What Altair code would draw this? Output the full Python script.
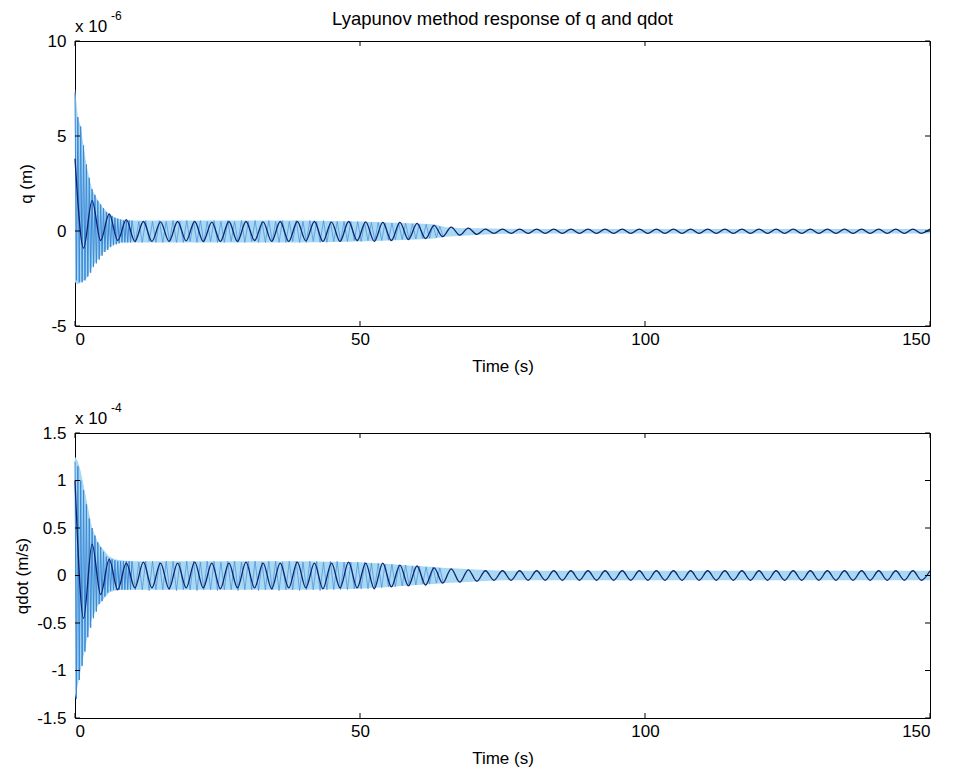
import altair as alt
import pandas as pd

FONT = "Liberation Sans"

# envelope of the dense light-blue oscillation
t_env = [0, 0.5, 1, 1.5, 2, 2.5, 3, 4, 5, 6, 7, 8, 10, 20, 30, 40, 50, 55, 60, 63, 65,
         68, 71, 75, 80, 90, 100, 110, 120, 130, 140, 150]
q_up = [7.5, 6.0, 5.5, 4.5, 3.5, 2.8, 2.2, 1.6, 1.2, 0.9, 0.7, 0.6, 0.55, 0.55, 0.55, 0.55,
        0.5, 0.45, 0.4, 0.35, 0.2, 0.15, 0.15, 0.12, 0.1, 0.1, 0.1, 0.1, 0.1, 0.1, 0.1, 0.1]
q_lo = [-2.7, -2.8, -2.7, -2.6, -2.5, -2.2, -1.9, -1.5, -1.1, -0.85, -0.7, -0.6, -0.6, -0.6,
        -0.6, -0.6, -0.55, -0.5, -0.45, -0.4, -0.3, -0.25, -0.2, -0.15, -0.13, -0.13, -0.13,
        -0.13, -0.13, -0.13, -0.13, -0.13]
qd_up = [1.25, 1.2, 1.1, 0.95, 0.8, 0.65, 0.5, 0.35, 0.27, 0.2, 0.17, 0.16, 0.15, 0.15, 0.15,
         0.15, 0.14, 0.12, 0.1, 0.09, 0.08, 0.07, 0.06, 0.05, 0.05, 0.05, 0.05, 0.05, 0.05,
         0.05, 0.05, 0.05]
qd_lo = [-1.3, -1.15, -1.0, -0.85, -0.7, -0.55, -0.45, -0.32, -0.25, -0.18, -0.16, -0.15,
         -0.15, -0.15, -0.15, -0.15, -0.14, -0.12, -0.1, -0.09, -0.08, -0.07, -0.06, -0.05,
         -0.05, -0.05, -0.05, -0.05, -0.05, -0.05, -0.05, -0.05]

# fast oscillation during the initial transient (every 0.25 s, 0..10 s)
q_fast = [7.3, -2.6, 6.0, -2.7, 5.5, -2.7, 4.5, -2.6, 3.5, -2.4, 2.8, -2.2, 2.2, -1.9, 1.9,
          -1.7, 1.6, -1.5, 1.4, -1.3, 1.2, -1.1, 1.0, -1.0, 0.9, -0.85, 0.8, -0.75, 0.7, -0.7,
          0.65, -0.65, 0.6, -0.6, 0.55, -0.6, 0.55, -0.6, 0.55, -0.6, 0.55]
qd_fast = [1.2, -1.3, 1.15, -1.1, 1.0, -0.95, 0.9, -0.8, 0.75, -0.65, 0.6, -0.55, 0.5, -0.45,
           0.42, -0.38, 0.35, -0.3, 0.3, -0.27, 0.25, -0.22, 0.2, -0.18, 0.18, -0.16, 0.17,
           -0.15, 0.16, -0.15, 0.15, -0.15, 0.15, -0.15, 0.15, -0.15, 0.15, -0.15, 0.15, -0.15,
           0.15]

# stripes of the fast oscillation in the steady band (every 0.6 s, from 10 s)
q_stripe = [0.55, -0.6, 0.5, -0.6, 0.55, -0.55, 0.5, -0.6, 0.55, -0.6,
            0.5, -0.55, 0.55, -0.6, 0.5, -0.6, 0.55, -0.55, 0.5, -0.6,
            0.55, -0.6, 0.5, -0.55, 0.55, -0.6, 0.5, -0.6, 0.55, -0.55,
            0.5, -0.6, 0.55, -0.6, 0.5, -0.55, 0.55, -0.6, 0.5, -0.6,
            0.55, -0.55, 0.5, -0.6, 0.55, -0.6, 0.5, -0.55, 0.55, -0.6,
            0.5, -0.6, 0.55, -0.55, 0.5, -0.6, 0.55, -0.6, 0.5, -0.55,
            0.5, -0.55, 0.5, -0.55, 0.5, -0.5, 0.5, -0.55, 0.45, -0.5,
            0.45, -0.5, 0.45, -0.5, 0.42, -0.48, 0.42, -0.45, 0.4, -0.45,
            0.4, -0.42, 0.38, -0.42, 0.35, -0.4, 0.35, -0.38, 0.3, -0.35,
            0.25, -0.3]
qd_stripe = [0.15, -0.15, 0.14, -0.15, 0.15, -0.16, 0.15, -0.15, 0.14, -0.15,
             0.15, -0.15, 0.15, -0.16, 0.14, -0.15, 0.15, -0.15, 0.15, -0.16,
             0.14, -0.15, 0.15, -0.15, 0.15, -0.16, 0.14, -0.15, 0.15, -0.15,
             0.15, -0.16, 0.14, -0.15, 0.15, -0.15, 0.15, -0.16, 0.14, -0.15,
             0.15, -0.15, 0.15, -0.16, 0.14, -0.15, 0.15, -0.15, 0.15, -0.16,
             0.14, -0.15, 0.15, -0.15, 0.15, -0.16, 0.14, -0.15, 0.15, -0.15,
             0.15, -0.15, 0.14, -0.15, 0.14, -0.14, 0.14, -0.14, 0.14, -0.14,
             0.13, -0.13, 0.13, -0.13, 0.12, -0.12, 0.12, -0.12, 0.11, -0.11,
             0.11, -0.1, 0.1, -0.1, 0.1, -0.09, 0.09, -0.09, 0.09, -0.08,
             0.08, -0.08]

# slower dark oscillation (extremes every 1.5 s)
q_dark = [3.8, -0.9, 1.6, -0.5, 0.9, -0.5, 0.6, -0.55,
          0.5, -0.55, 0.48, -0.55, 0.5, -0.52, 0.5, -0.55, 0.47, -0.55,
          0.5, -0.55, 0.5, -0.5, 0.48, -0.55, 0.5, -0.55, 0.5, -0.52,
          0.5, -0.55, 0.47, -0.55, 0.5, -0.5, 0.48, -0.55, 0.45,
          -0.5, 0.45, -0.45, 0.4, -0.4, 0.3, -0.3, 0.2, -0.22, 0.15, -0.18,
          0.1, -0.13, 0.1, -0.12, 0.1, -0.13, 0.1, -0.12, 0.1, -0.13,
          0.1, -0.12, 0.1, -0.13, 0.1, -0.12, 0.1, -0.13, 0.1, -0.12,
          0.1, -0.13, 0.1, -0.12, 0.1, -0.13, 0.1, -0.12, 0.1, -0.13,
          0.1, -0.12, 0.1, -0.13, 0.1, -0.12, 0.1, -0.13, 0.1, -0.12,
          0.1, -0.13, 0.1, -0.12, 0.1, -0.13, 0.1, -0.12, 0.1, -0.13,
          0.1, -0.12, 0.1]
qd_dark = [1.0, -0.45, 0.33, -0.2, 0.17, -0.15,
           0.13, -0.13, 0.14, -0.13, 0.13, -0.14, 0.13, -0.13, 0.14, -0.13,
           0.13, -0.14, 0.13, -0.13, 0.14, -0.13, 0.13, -0.14, 0.13, -0.13,
           0.14, -0.13, 0.13, -0.14, 0.13, -0.13, 0.14, -0.13, 0.13, -0.14, 0.13,
           -0.12, 0.11, -0.11, 0.1, -0.1, 0.08, -0.08, 0.07, -0.07, 0.06, -0.06,
           0.05, -0.05, 0.05, -0.05, 0.05, -0.05, 0.05, -0.05, 0.05, -0.05,
           0.05, -0.05, 0.05, -0.05, 0.05, -0.05, 0.05, -0.05, 0.05, -0.05,
           0.05, -0.05, 0.05, -0.05, 0.05, -0.05, 0.05, -0.05, 0.05, -0.05,
           0.05, -0.05, 0.05, -0.05, 0.05, -0.05, 0.05, -0.05, 0.05, -0.05,
           0.05, -0.05, 0.05, -0.05, 0.05, -0.05, 0.05, -0.05, 0.05, -0.05,
           0.05, -0.05, 0.05]

x_ticks = [0, 50, 100, 150]
q_ticks = [-5, 0, 5, 10]
qd_ticks = [-1.5, -1, -0.5, 0, 0.5, 1, 1.5]

W, H = 855, 285
LIGHT = "#a9d8f2"
MID = "#3a88d8"
DARK = "#0f2470"


def panel(up, lo, fast, stripe, dark, yticks, ydom, ytitle, exponent, ytp, title=None):
    env = pd.DataFrame({"t": t_env, "up": up, "lo": lo})
    fdf = pd.DataFrame({"t": [i * 0.25 for i in range(len(fast))], "v": fast})
    sdf = pd.DataFrame({"t": [10 + i * 0.6 for i in range(len(stripe))], "v": stripe})
    ddf = pd.DataFrame({"t": [i * 1.5 for i in range(len(dark))], "v": dark})
    xs = alt.Scale(domain=[0, 150], nice=False)
    ys = alt.Scale(domain=ydom, nice=False)
    common = dict(tickSize=0, domain=False, grid=False, labelExpr="'' + datum.value",
                  labelFont=FONT, titleFont=FONT, labelFontSize=17, titleFontSize=17,
                  labelColor="black", titleColor="black", titleFontWeight="normal")
    xax = alt.Axis(values=x_ticks, title="Time (s)", labelPadding=5, titlePadding=11, **common)
    yax = alt.Axis(values=yticks, title=ytitle, labelPadding=9, titlePadding=ytp, **common)
    base_area = alt.Chart(env).mark_area(color=LIGHT, opacity=1, interpolate="linear").encode(
        x=alt.X("t:Q", scale=xs, axis=xax), y=alt.Y("up:Q", scale=ys, axis=yax), y2="lo:Q")
    fast_line = alt.Chart(fdf).mark_line(color=MID, strokeWidth=1).encode(
        x=alt.X("t:Q", scale=xs), y=alt.Y("v:Q", scale=ys))
    stripe_line = alt.Chart(sdf).mark_line(color=MID, strokeWidth=0.8, opacity=0.8).encode(
        x=alt.X("t:Q", scale=xs), y=alt.Y("v:Q", scale=ys))
    dark_line = alt.Chart(ddf).mark_line(color=DARK, strokeWidth=1.3,
                                         interpolate="monotone").encode(
        x=alt.X("t:Q", scale=xs), y=alt.Y("v:Q", scale=ys))
    xt = pd.DataFrame({"x": x_ticks})
    yt = pd.DataFrame({"y": yticks})
    tb = alt.Chart(xt).mark_rule(color="black", strokeWidth=1).encode(
        x=alt.X("x:Q", scale=xs), y=alt.value(H), y2=alt.value(H - 5))
    tt = alt.Chart(xt).mark_rule(color="black", strokeWidth=1).encode(
        x=alt.X("x:Q", scale=xs), y=alt.value(0), y2=alt.value(5))
    tl = alt.Chart(yt).mark_rule(color="black", strokeWidth=1).encode(
        y=alt.Y("y:Q", scale=ys), x=alt.value(0), x2=alt.value(5))
    tr = alt.Chart(yt).mark_rule(color="black", strokeWidth=1).encode(
        y=alt.Y("y:Q", scale=ys), x=alt.value(W), x2=alt.value(W - 5))
    lab = pd.DataFrame({"a": ["x 10"], "b": [exponent]})
    t1 = alt.Chart(lab).mark_text(align="left", baseline="alphabetic", fontSize=17,
                                  font=FONT, color="black").encode(
        text="a:N", x=alt.value(0), y=alt.value(-9))
    t2 = alt.Chart(lab).mark_text(align="left", baseline="alphabetic", fontSize=12,
                                  font=FONT, color="black").encode(
        text="b:N", x=alt.value(36), y=alt.value(-21))
    ch = alt.layer(base_area, stripe_line, fast_line, dark_line, tb, tt, tl, tr, t1,
                   t2).properties(width=W, height=H)
    if title:
        ch = ch.properties(title=alt.Title(title, anchor="middle", frame="group",
                                           fontSize=18.5, font=FONT, fontWeight="normal",
                                           offset=-18, color="black"))
    return ch


top = panel(q_up, q_lo, q_fast, q_stripe, q_dark, q_ticks, [-5, 10], "q (m)", "-6", 12,
            title="Lyapunov method response of q and qdot")
bottom = panel(qd_up, qd_lo, qd_fast, qd_stripe, qd_dark, qd_ticks, [-1.5, 1.5],
               "qdot (m/s)", "-4", 5)

chart = alt.vconcat(top, bottom, spacing=26).configure(
    background="white", padding={"left": 13, "top": 9, "right": 5, "bottom": 5}
).configure_view(stroke="black", strokeWidth=1)

chart.save("out.html", embed_options={"renderer": "svg", "actions": False})
